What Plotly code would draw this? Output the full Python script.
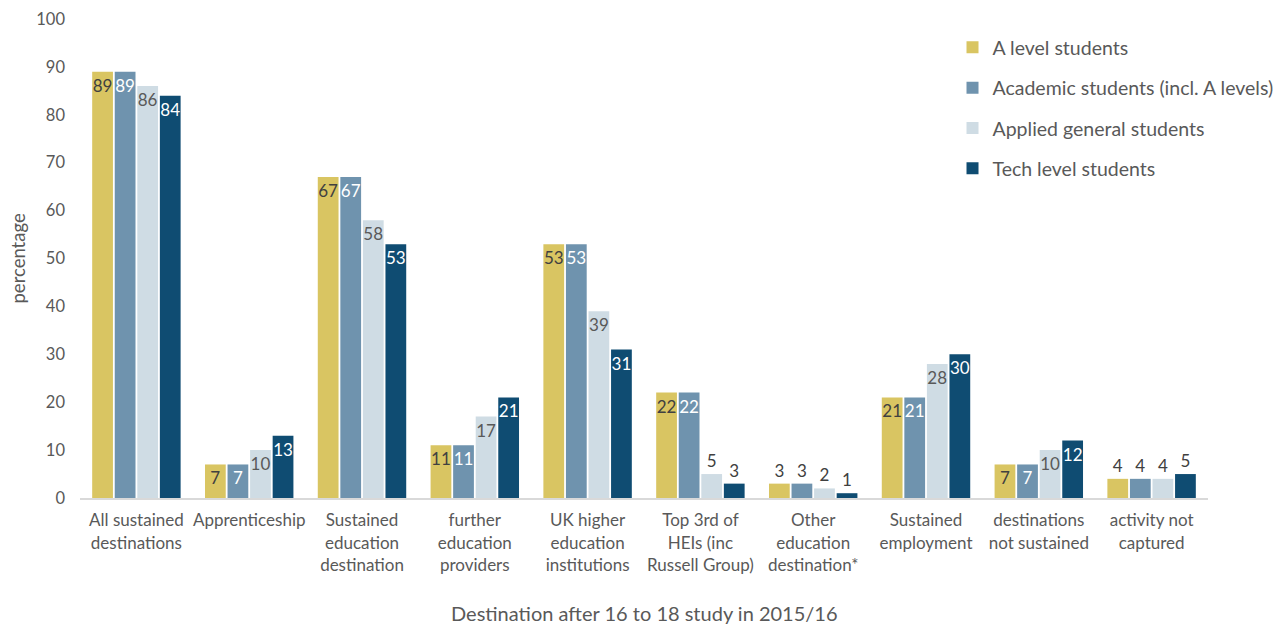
import plotly.graph_objects as go

categories = [
    "All sustained<br>destinations",
    "Apprenticeship",
    "Sustained<br>education<br>destination",
    "further<br>education<br>providers",
    "UK higher<br>education<br>institutions",
    "Top 3rd of<br>HEIs (inc<br>Russell Group)",
    "Other<br>education<br>destination*",
    "Sustained<br>employment",
    "destinations<br>not sustained",
    "activity not<br>captured",
]

a_level = [89, 7, 67, 11, 53, 22, 3, 21, 7, 4]
academic = [89, 7, 67, 11, 53, 22, 3, 21, 7, 4]
applied_general = [86, 10, 58, 17, 39, 5, 2, 28, 10, 4]
tech_level = [84, 13, 53, 21, 31, 3, 1, 30, 12, 5]

series = [
    ("A level students", a_level, "#D9C562", "#404040"),
    ("Academic students (incl. A levels)", academic, "#6F93AE", "#FFFFFF"),
    ("Applied general students", applied_general, "#CFDCE4", "#595959"),
    ("Tech level students", tech_level, "#0F4C72", "#FFFFFF"),
]

FONT = "Lato, 'Open Sans', sans-serif"
GREY = "#595959"

fig = go.Figure()
for i, (name, vals, colour, txt_colour) in enumerate(series):
    # labels sit inside the top of the bar; short bars get them just above
    positions = ["inside" if v >= 6 else "outside" for v in vals]
    fig.add_trace(go.Bar(
        name=name,
        x=categories,
        y=vals,
        marker=dict(color=colour, line=dict(width=0)),
        text=[str(v) for v in vals],
        textposition=positions,
        insidetextanchor="end",
        constraintext="none",
        textangle=0,
        insidetextfont=dict(family=FONT, size=17, color=txt_colour),
        outsidetextfont=dict(family=FONT, size=17, color="#404040"),
        cliponaxis=False,
        legendgroup=f"g{i}",
    ))

fig.update_layout(
    width=1287,
    height=627,
    barmode="group",
    bargap=0.2,
    bargroupgap=0.08,
    plot_bgcolor="white",
    paper_bgcolor="white",
    margin=dict(l=80, r=79, t=19, b=129, autoexpand=False),
    font=dict(family=FONT, color=GREY, size=16),
    legend=dict(
        x=0.7735, y=0.981, xanchor="left", yanchor="top",
        font=dict(family=FONT, size=19.5, color=GREY),
        traceorder="grouped",
        tracegroupgap=12,
        bgcolor="rgba(0,0,0,0)",
    ),
    xaxis=dict(
        automargin=False,
        showline=True,
        linecolor="#D9D9D9",
        linewidth=2,
        ticks="",
        ticklabelstandoff=6,
        tickfont=dict(family=FONT, size=17, color=GREY),
    ),
    yaxis=dict(
        automargin=False,
        range=[0, 100],
        dtick=10,
        showgrid=False,
        zeroline=False,
        showline=False,
        ticks="",
        ticklabelstandoff=14,
        tickfont=dict(family=FONT, size=16.5, color=GREY),
    ),
    annotations=[
        dict(
            text="Destination after 16 to 18 study in 2015/16",
            xref="paper", yref="paper", x=0.5, y=0,
            xanchor="center", yanchor="middle", yshift=-115,
            showarrow=False,
            font=dict(family=FONT, size=20, color=GREY),
        ),
        dict(
            text="percentage",
            xref="paper", yref="paper", x=0, y=0.5,
            xanchor="center", yanchor="middle", xshift=-63,
            textangle=-90, showarrow=False,
            font=dict(family=FONT, size=18.5, color=GREY),
        ),
    ],
)

fig.write_html("out.html")
